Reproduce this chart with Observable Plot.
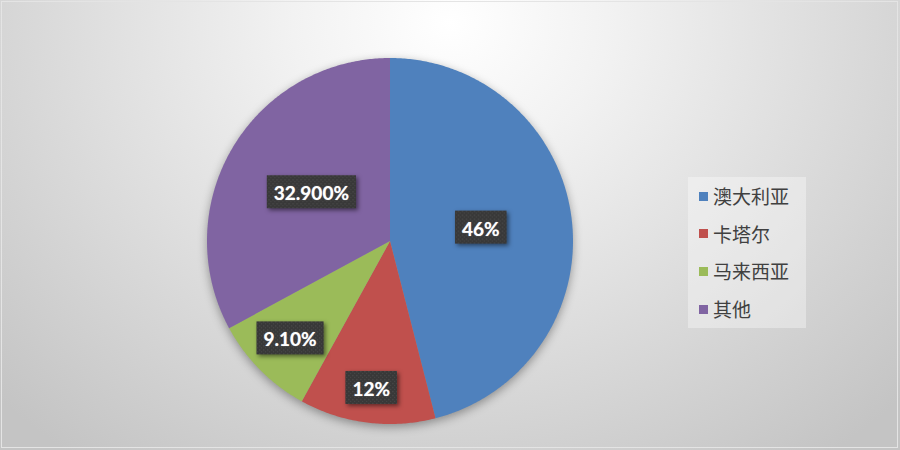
<!DOCTYPE html>
<html>
<head>
<meta charset="utf-8">
<script src="https://cdn.jsdelivr.net/npm/d3@7"></script>
<script src="https://cdn.jsdelivr.net/npm/@observablehq/plot@0.6"></script>
<style>
  body { margin: 0; }
  #wrap {
    position: relative; width: 900px; height: 450px; overflow: hidden;
    background: radial-gradient(ellipse 70% 120% at 50% 5%, #ffffff 0%, #f2f2f2 25%, #c4c4c4 100%);
  }
  #frame { position: absolute; left: 1px; top: 1px; right: 2px; bottom: 2px; border: 1px solid #e4e4e4; pointer-events: none; }
  #legend {
    position: absolute; left: 688px; top: 177px; width: 118px; height: 151px;
    background: rgba(255,255,255,0.35);
    font-family: "Noto Sans CJK SC", sans-serif; font-size: 19px; color: #404040;
  }
  .item { position: absolute; left: 11px; height: 24px; line-height: 24px; display: flex; align-items: center; white-space: nowrap; }
  .sw { width: 9px; height: 9px; margin-right: 5px; }
</style>
</head>
<body>
<div id="wrap"><div id="chart"></div><div id="legend"></div><div id="frame"></div></div>
<script>
// datos
const names = ["澳大利亚", "卡塔尔", "马来西亚", "其他"];
const shares = [46, 12, 9.1, 32.9];
const labels = ["46%", "12%", "9.10%", "32.900%"];
const colors = ["#4f81bd", "#c0504d", "#9bbb59", "#8064a2"];

// layout (pixeles)
const W = 900, H = 450, cx = 389.5, cy = 240.5, R = 183;
const labelR = [0.5, 0.82, 0.77, 0.5];

const arcs = d3.pie().sort(null).value(d => d)(shares);

// poligono de cada porcion en unidades del radio
const slices = arcs.flatMap((a, i) => {
  const n = Math.max(2, Math.ceil((a.endAngle - a.startAngle) / 0.01));
  const pts = [{key: names[i], x: 0, y: 0}];
  for (let k = 0; k <= n; k++) {
    const t = a.startAngle + (a.endAngle - a.startAngle) * k / n;
    pts.push({key: names[i], x: Math.sin(t), y: Math.cos(t)});
  }
  return pts;
});

const labelData = arcs.map((a, i) => {
  const m = (a.startAngle + a.endAngle) / 2;
  return {text: labels[i], x: labelR[i] * Math.sin(m), y: labelR[i] * Math.cos(m)};
});

let chart = Plot.plot({
  width: W,
  height: H,
  margin: 0,
  x: {domain: [-cx / R, (W - cx) / R], axis: null},
  y: {domain: [-(H - cy) / R, cy / R], axis: null},
  color: {domain: names, range: colors},
  style: {background: "none", overflow: "visible"},
  marks: [
    Plot.line(slices, {x: "x", y: "y", z: "key", fill: "key", stroke: "none"}),
    Plot.text(labelData, {
      x: "x", y: "y", text: "text",
      fill: "white", fontSize: 19, fontWeight: "bold",
      fontFamily: "Lato, 'Open Sans', sans-serif"
    })
  ]
});

d3.select('#chart').append(() => chart);

/* sombra de la torta y cajas de las etiquetas */
const svg = d3.select(chart);
const defs = svg.insert("defs", ":first-child");
const pat = defs.append("pattern").attr("id", "dots").attr("patternUnits", "userSpaceOnUse")
  .attr("width", 4).attr("height", 4);
pat.append("rect").attr("width", 4).attr("height", 4).attr("fill", "#383838");
pat.append("rect").attr("x", 1).attr("y", 1).attr("width", 1.3).attr("height", 1.3).attr("fill", "#4a4a4a");
pat.append("rect").attr("x", 3).attr("y", 3).attr("width", 1.3).attr("height", 1.3).attr("fill", "#4a4a4a");

svg.select('g[aria-label="line"]').style("filter", "drop-shadow(0px 3px 5px rgba(0,0,0,0.35))");

svg.selectAll('g[aria-label="text"] text').each(function () {
  const b = this.getBBox();
  const r = document.createElementNS("http://www.w3.org/2000/svg", "rect");
  const t = this.getAttribute("transform");
  if (t) r.setAttribute("transform", t);
  r.setAttribute("x", b.x - 7);
  r.setAttribute("y", b.y - 6);
  r.setAttribute("width", b.width + 14);
  r.setAttribute("height", b.height + 10);
  r.setAttribute("fill", "url(#dots)");
  r.style.filter = "drop-shadow(2px 2px 2px rgba(0,0,0,0.5))";
  this.parentNode.insertBefore(r, this);
  this.style.textShadow = "0 0 1px rgba(255,255,255,0.6)";
});

// leyenda
const legend = d3.select('#legend');
names.forEach((n, i) => {
  const it = legend.append("div").attr("class", "item").style("top", (7 + i * 37.7) + "px");
  it.append("div").attr("class", "sw").style("background", colors[i]);
  it.append("span").text(n);
});
</script>
</body>
</html>
